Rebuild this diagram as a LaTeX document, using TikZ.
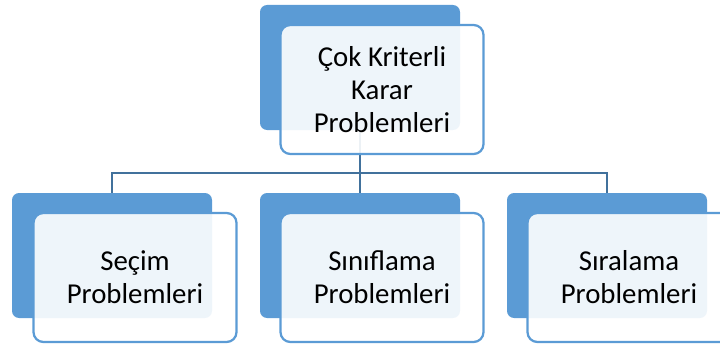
\documentclass[tikz,border=0pt]{standalone}
\usepackage{fontspec}
\setmainfont{Carlito}
\usepackage{xcolor}
\usepackage{tikz}
\usetikzlibrary{positioning, backgrounds}

\definecolor{plateblue}{HTML}{5B9BD5}
\definecolor{linkblue}{HTML}{41719C}

\begin{document}
\begin{tikzpicture}[
  plate/.style={rectangle, rounded corners=5pt, minimum width=5cm, minimum height=3.125cm, inner sep=0pt, fill=plateblue},
  card/.style={rectangle, draw=plateblue, line width=1.6pt, rounded corners=7pt, minimum width=5.075cm, minimum height=3.225cm, align=center, fill=white, fill opacity=0.9, text opacity=1, font=\fontsize{20.5}{23.5}\selectfont},
  link/.style={draw=linkblue, line width=1.6pt}
]
\useasboundingbox (0,0) rectangle (18,-8.6);

% Top level
\node[plate] (mainbg) at (9,-1.6875) {};
\node[card]  (main)   at (9.55,-2.2375) {Çok Kriterli\\Karar\\Problemleri};

% Second level
\node[plate] (secimbg) at (2.8,-6.3875)   {};
\node[card]  (secim)   at (3.375,-6.9375) {Seçim\\Problemleri};
\node[plate] (sinifbg) at (9,-6.3875)     {};
\node[card]  (sinif)   at (9.55,-6.9375)  {Sınıflama\\Problemleri};
\node[plate] (sirabg)  at (15.175,-6.3875) {};
\node[card]  (sira)    at (15.725,-6.9375) {Sıralama\\Problemleri};

% Connectors
\coordinate (split) at (9,-4.325);
\begin{scope}[on background layer]
\draw[link] (mainbg.south) -- (split);
\draw[link] (split) -| (secimbg.north);
\draw[link] (split) -- (sinifbg.north);
\draw[link] (split) -| (sirabg.north);
\end{scope}

\end{tikzpicture}
\end{document}
